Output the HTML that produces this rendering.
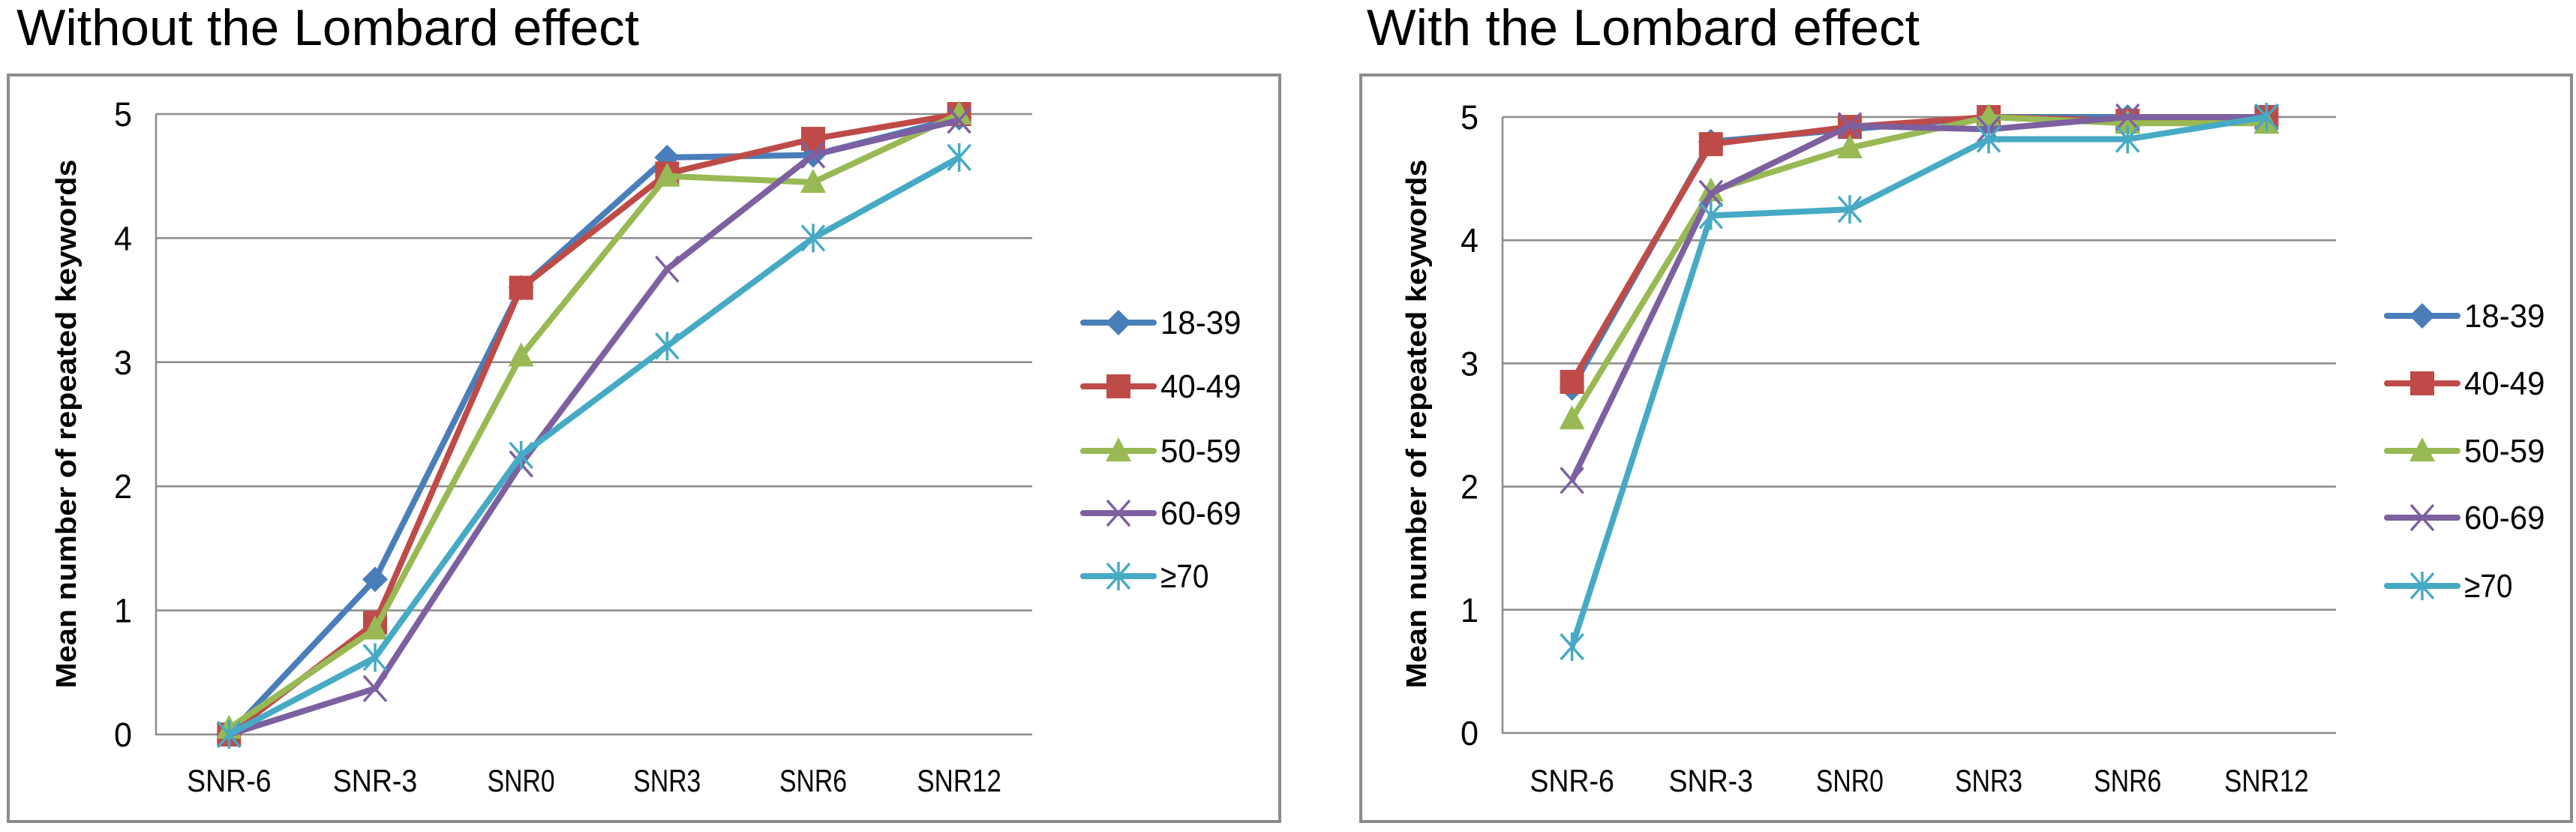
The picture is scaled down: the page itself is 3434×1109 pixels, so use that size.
<!DOCTYPE html>
<html><head><meta charset="utf-8">
<style>
html,body{margin:0;padding:0;background:#fff;}
svg{display:block;}
text{font-family:"Liberation Sans",sans-serif;}
</style></head>
<body>
<svg id="root" width="3434" height="1109" viewBox="0 0 3434 1109" xmlns="http://www.w3.org/2000/svg">
<text x="22" y="60" font-size="68" fill="#000" textLength="830" lengthAdjust="spacingAndGlyphs">Without the Lombard effect</text>
<text x="1822" y="60" font-size="68" fill="#000" textLength="737" lengthAdjust="spacingAndGlyphs">With the Lombard effect</text>
</svg>
<script>
const categories = ["SNR-6","SNR-3","SNR0","SNR3","SNR6","SNR12"];
const seriesNames = ["18-39","40-49","50-59","60-69","≥70"];
const yTicks = [0,1,2,3,4,5];
const without1839 = [0, 1.25, 3.6, 4.65, 4.67, 4.97];
const without4049 = [0, 0.9, 3.6, 4.52, 4.8, 5.0];
const without5059 = [0.05, 0.85, 3.05, 4.5, 4.45, 5.0];
const without6069 = [0, 0.37, 2.18, 3.75, 4.67, 4.95];
const without70 = [0, 0.62, 2.25, 3.13, 4.0, 4.65];
const with1839 = [2.8, 4.8, 4.9, 5.0, 5.0, 5.0];
const with4049 = [2.85, 4.78, 4.92, 5.0, 4.97, 5.0];
const with5059 = [2.55, 4.4, 4.75, 5.0, 4.95, 4.95];
const with6069 = [2.05, 4.38, 4.93, 4.9, 5.0, 5.0];
const with70 = [0.7, 4.2, 4.25, 4.82, 4.82, 5.0];

const colors = ["#4A7EBB","#BE4B48","#98B954","#7D60A0","#46AAC5"];
const markers = ["diamond","square","triangle","x","star"];
const NS = "http://www.w3.org/2000/svg";
const root = document.getElementById("root");
function mk(tag, attrs, parent){const e=document.createElementNS(NS,tag);for(const k in attrs)e.setAttribute(k,attrs[k]);(parent||root).appendChild(e);return e;}

function marker(g, type, x, y, c){
  let e;
  const s=17;
  if(type==="diamond") e=mk("polygon",{points:`${x},${y-s} ${x+s},${y} ${x},${y+s} ${x-s},${y}`,fill:c},g);
  else if(type==="square") e=mk("rect",{x:x-16,y:y-16,width:32,height:32,fill:c},g);
  else if(type==="triangle") e=mk("polygon",{points:`${x},${y-18} ${x+17},${y+14} ${x-17},${y+14}`,fill:c},g);
  else if(type==="x") e=mk("path",{d:`M${x-15},${y-17}L${x+15},${y+17}M${x+15},${y-17}L${x-15},${y+17}`,stroke:c,"stroke-width":3.5,fill:"none"},g);
  else e=mk("path",{d:`M${x-15},${y-17}L${x+15},${y+17}M${x+15},${y-17}L${x-15},${y+17}M${x},${y-19}L${x},${y+19}`,stroke:c,"stroke-width":3.5,fill:"none"},g);
  
  
}

function chart(prefix, cfg, data){
  const g=mk("g",{});
  
  
  const frame=mk("rect",{x:cfg.fx,y:100,width:cfg.fw,height:995,fill:"#fff",stroke:"#8c8c8c","stroke-width":4},g);
  
  
  const yS=v=>cfg.y0-(cfg.y0-cfg.y5)*v/5;
  const step=(cfg.px1-cfg.px0)/categories.length;
  const xS=i=>cfg.px0+step*(i+0.5);
  yTicks.forEach(t=>{
    if(t>0){const l=mk("line",{x1:cfg.px0,x2:cfg.px1,y1:yS(t),y2:yS(t),stroke:"#8a8a8a","stroke-width":2.5},g);
      
      }
    const tx=mk("text",{x:cfg.px0-44,y:yS(t)+16,"font-size":45,"text-anchor":"middle",fill:"#000",textLength:24,lengthAdjust:"spacingAndGlyphs"},g);
    tx.textContent=t;
    
    
  });
  const ax=mk("path",{d:`M${cfg.px0},${cfg.y5}L${cfg.px0},${cfg.y0}L${cfg.px1},${cfg.y0}`,stroke:"#8a8a8a","stroke-width":2.5,fill:"none"},g);
  
  
  categories.forEach((c,i)=>{
    const tx=mk("text",{x:xS(i),y:1055,"font-size":42,"text-anchor":"middle",fill:"#000",textLength:c.length*22.5,lengthAdjust:"spacingAndGlyphs"},g);
    tx.textContent=c;
    
    
  });
  const yt=mk("text",{x:0,y:0,"font-size":38,"font-weight":"bold","text-anchor":"middle",fill:"#000",transform:`translate(${cfg.yt},565) rotate(-90)`,textLength:705,lengthAdjust:"spacingAndGlyphs"},g);
  yt.textContent="Mean number of repeated keywords";
  
  
  data.forEach((vals,si)=>{
    const pts=vals.map((v,i)=>xS(i)+","+yS(v)).join(" ");
    const pl=mk("polyline",{points:pts,fill:"none",stroke:colors[si],"stroke-width":8,"stroke-linejoin":"round"},g);
    
    
    vals.forEach((v,i)=>marker(g,markers[si],xS(i),yS(v),colors[si]));
    const ly=cfg.ly[si];
    const ll=mk("line",{x1:cfg.lx,x2:cfg.lx+94,y1:ly,y2:ly,stroke:colors[si],"stroke-width":8,"stroke-linecap":"round"},g);
    
    
    marker(g,markers[si],cfg.lx+47,ly,colors[si]);
    const lt=mk("text",{x:cfg.lx+103,y:ly+15,"font-size":44,fill:"#000",textLength:seriesNames[si].length*21.5,lengthAdjust:"spacingAndGlyphs"},g);
    lt.textContent=seriesNames[si];
    
    
  });
}
chart("left",{fx:11,fw:1695,px0:208,px1:1376,y0:979,y5:152,yt:101,lx:1444,ly:[430,515,601,684,768]},
  [without1839,without4049,without5059,without6069,without70]);
chart("right",{fx:1814,fw:1614,px0:2003,px1:3114,y0:977,y5:156,yt:1901,lx:3182,ly:[421,511,601,690,781]},
  [with1839,with4049,with5059,with6069,with70]);
</script>
</body></html>
